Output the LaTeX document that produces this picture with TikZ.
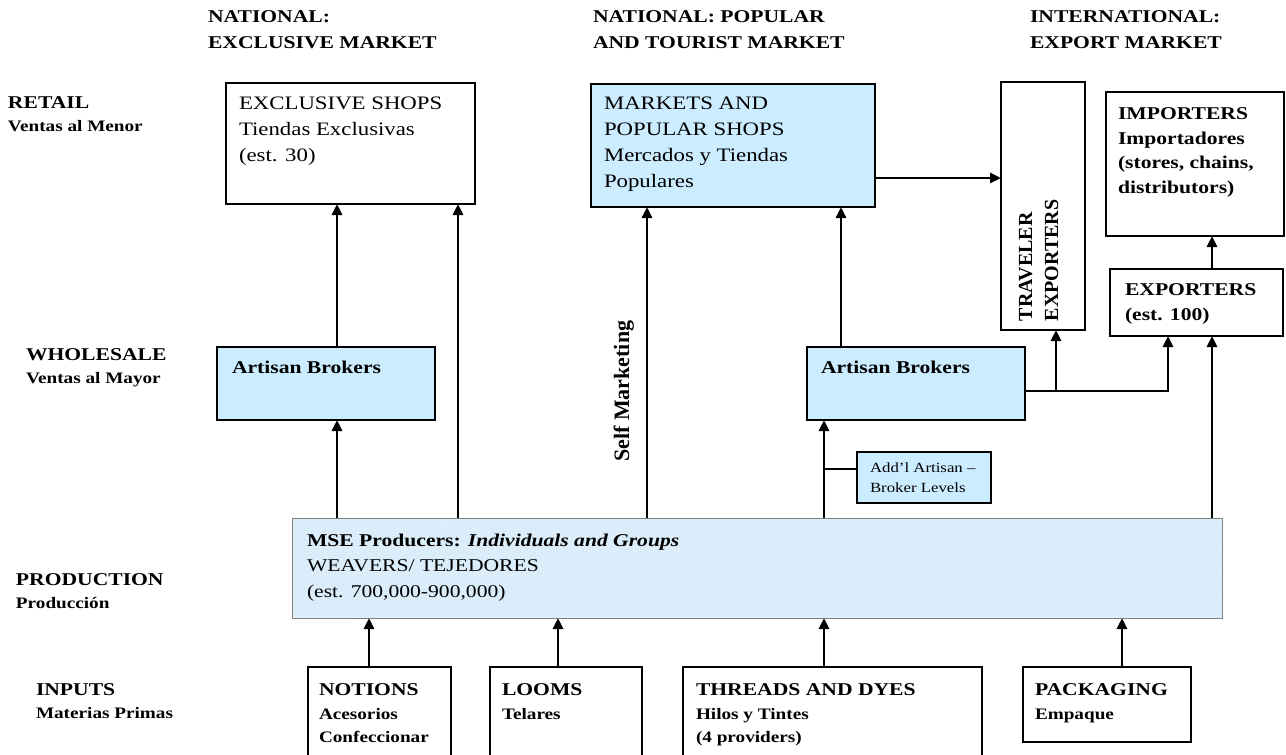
\documentclass[tikz,border=0pt]{standalone}
\usepackage{fontspec}
\setmainfont[FakeStretch=1.2]{Liberation Serif}
\newfontfamily\uprightserif{Liberation Serif}
\usetikzlibrary{arrows.meta,patterns}
\definecolor{paleblue}{RGB}{204,236,255}
\definecolor{prodblue}{RGB}{216,236,250}
\newcommand{\fsz}[2]{\fontsize{#1}{#2}\selectfont}

\begin{document}
\begin{tikzpicture}[x=1pt,y=-1pt,
  frame/.style={draw=black,line width=2.2pt,anchor=north west,inner sep=0pt,outer sep=0pt},
  thinframe/.style={frame,line width=1.2pt},
  txt/.style={anchor=north west,inner sep=0pt,outer sep=0pt,align=left},
  head/.style={txt,font=\bfseries\fsz{18}{26}},
  rowlab/.style={txt,font=\bfseries\fsz{18}{23}},
  boxtxt/.style={txt,font=\fsz{19}{26}},
  boldtxt/.style={txt,font=\bfseries\fsz{18}{24.5}},
  inputtxt/.style={txt,font=\bfseries\fsz{18}{23.5}},
  arr/.style={line width=2.8pt,-{Triangle[width=10pt,length=11pt]}},
  link/.style={line width=2.8pt},
]
\useasboundingbox (0,0) rectangle (1286,755);

% column x positions of the vertical connectors
\coordinate (c1) at (337,0);
\coordinate (c2) at (458,0);
\coordinate (c3) at (647,0);
\coordinate (c4) at (824,0);
\coordinate (c5) at (841,0);
\coordinate (c6) at (1056,0);
\coordinate (c7) at (1168,0);
\coordinate (c8) at (1212,0);
\coordinate (i1) at (369,0);
\coordinate (i2) at (558,0);
\coordinate (i3) at (824,0);
\coordinate (i4) at (1122,0);
% row y positions of the horizontal connectors
\coordinate (r1) at (0,178);
\coordinate (r2) at (0,391);
\coordinate (r3) at (0,469);

% column headings
\node[head] (h1) at (208,11) {NATIONAL:\\EXCLUSIVE MARKET};
\node[head] (h2) at (593,11) {NATIONAL: POPULAR\\AND TOURIST MARKET};
\node[head] (h3) at (1030,11) {INTERNATIONAL:\\EXPORT MARKET};

% row labels
\node[rowlab] (l1) at (8,97) {RETAIL\\{\fsz{16}{23}Ventas al Menor}};
\node[rowlab] (l2) at (26,349) {WHOLESALE\\{\fsz{16}{23}Ventas al Mayor}};
\node[rowlab] (l3) at (16,574) {PRODUCTION\\{\fsz{16}{23}Producción}};
\node[rowlab] (l4) at (36,684) {INPUTS\\{\fsz{16}{23}Materias Primas}};

% retail level
\node[frame,fill=white,minimum width=249pt,minimum height=121pt] (excl) at (226,83) {};
\node[boxtxt] (exclT) at (239,96.5) {EXCLUSIVE SHOPS\\Tiendas Exclusivas\\(est. 30)};
\node[frame,fill=paleblue,minimum width=284pt,minimum height=123pt] (mkt) at (591,84) {};
\node[boxtxt] (mktT) at (604,96.5) {MARKETS AND\\POPULAR SHOPS\\Mercados y Tiendas\\Populares};
\node[thinframe,fill=white,minimum width=84pt,minimum height=248pt] (trav) at (1001,82) {};
\node[txt,rotate=90,font=\uprightserif\bfseries\fsz{20}{26}] (travT) at (1019,321) {TRAVELER\\EXPORTERS};
\node[frame,fill=white,minimum width=178pt,minimum height=144pt] (imp) at (1106,92) {};
\node[boldtxt] (impT) at (1118,108) {IMPORTERS\\Importadores\\(stores, chains,\\distributors)};

% wholesale level
\node[frame,fill=white,minimum width=173pt,minimum height=67pt] (exp) at (1110,269) {};
\node[boldtxt] (expT) at (1125,284) {EXPORTERS\\(est. 100)};
\node[frame,fill=paleblue,minimum width=218pt,minimum height=73pt] (ableft) at (217,347) {};
\node[boldtxt] (ableftT) at (232,361) {Artisan Brokers};
\node[frame,fill=paleblue,minimum width=218pt,minimum height=73pt] (abright) at (807,347) {};
\node[boldtxt] (abrightT) at (821,361) {Artisan Brokers};
\node[frame,fill=paleblue,minimum width=134pt,minimum height=51pt] (addl) at (857,452) {};
\node[txt,font=\fsz{14}{19.5}] (addlT) at (870,463) {Add’l Artisan –\\Broker Levels};

% production level
\node[frame,draw=gray,line width=0.8pt,fill=prodblue,minimum width=930pt,minimum height=100pt] (prod) at (292,518) {};
\fill[pattern=dots,pattern color=white] (prod.north west) rectangle (prod.south east);
\draw[gray,line width=0.8pt] (prod.north west) rectangle (prod.south east);
\node[txt,font=\fsz{18}{25.5}] (prodT) at (307,534) {\textbf{MSE Producers: \textit{Individuals and Groups}}\\WEAVERS/ TEJEDORES\\(est. 700,000-900,000)};

% inputs level
\node[frame,fill=white,minimum width=143pt,minimum height=100pt] (notions) at (308,667) {};
\node[inputtxt] (notionsT) at (319,684) {NOTIONS\\{\fsz{16}{23.5}Acesorios}\\{\fsz{16}{23.5}Confeccionar}};
\node[frame,fill=white,minimum width=152pt,minimum height=100pt] (looms) at (490,667) {};
\node[inputtxt] (loomsT) at (502,684) {LOOMS\\{\fsz{16}{23.5}Telares}};
\node[frame,fill=white,minimum width=299pt,minimum height=100pt] (threads) at (683,667) {};
\node[inputtxt] (threadsT) at (696,684) {THREADS AND DYES\\{\fsz{16}{23.5}Hilos y Tintes}\\{\fsz{16}{23.5}(4 providers)}};
\node[frame,fill=white,minimum width=168pt,minimum height=75pt] (pack) at (1023,667) {};
\node[inputtxt] (packT) at (1035,684) {PACKAGING\\{\fsz{16}{23.5}Empaque}};

% self-marketing label
\node[anchor=base west,inner sep=0pt,rotate=90,font=\uprightserif\bfseries\fsz{22}{25}] (selfT) at (629,462) {Self Marketing};

% connectors between levels
\draw[arr] (ableft.north -| c1) -- (excl.south -| c1);
\draw[arr] (prod.north -| c1) -- (ableft.south -| c1);
\draw[arr] (prod.north -| c2) -- (excl.south -| c2);
\draw[arr] (prod.north -| c3) -- (mkt.south -| c3);
\draw[arr] (abright.north -| c5) -- (mkt.south -| c5);
\draw[arr] (prod.north -| c4) -- (abright.south -| c4);
\draw[link] (r3 -| c4) -- (r3 -| addl.west);
\draw[arr] (mkt.east |- r1) -- (trav.west |- r1);
\draw[arr] (abright.east |- r2) -| (exp.south -| c7);
\draw[arr] (r2 -| c6) -- (trav.south -| c6);
\draw[arr] (prod.north -| c8) -- (exp.south -| c8);
\draw[arr] (exp.north -| c8) -- (imp.south -| c8);
\draw[arr] (notions.north -| i1) -- (prod.south -| i1);
\draw[arr] (looms.north -| i2) -- (prod.south -| i2);
\draw[arr] (threads.north -| i3) -- (prod.south -| i3);
\draw[arr] (pack.north -| i4) -- (prod.south -| i4);
\end{tikzpicture}
\end{document}
